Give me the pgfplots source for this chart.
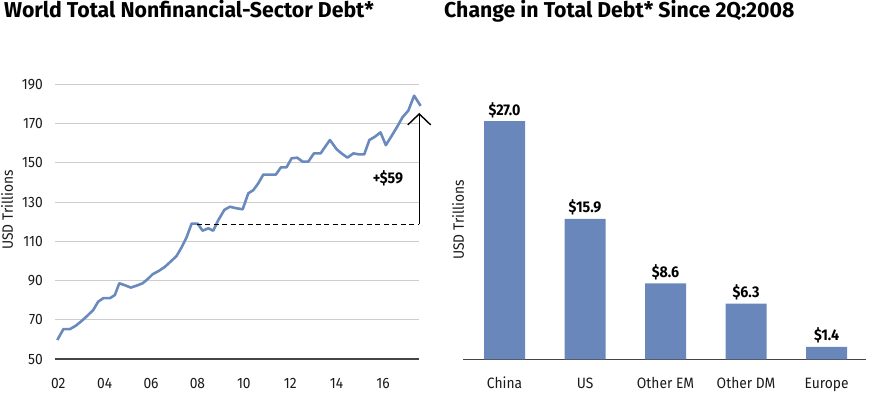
\documentclass[border=0pt]{standalone}
\usepackage{fontspec}
\setmainfont{Fira Sans}[FakeStretch=0.92]
\newfontfamily\titlefont{Fira Sans}[FakeStretch=0.99]
\usepackage{pgfplots}
\pgfplotsset{compat=1.18, /pgf/number format/assume math mode=true}
\usetikzlibrary{arrows.meta}
\definecolor{lineblue}{HTML}{6A8ABD}
\definecolor{barblue}{HTML}{6987BA}
\definecolor{gridgray}{HTML}{CDCDCD}
\definecolor{axisgray}{HTML}{454545}
\definecolor{txt}{HTML}{1A1A1A}
\begin{document}
\begin{tikzpicture}
\useasboundingbox (0pt,0pt) rectangle (880pt,392pt);
\node[anchor=base west, inner sep=0, font=\titlefont\fontsize{21.5}{24}\selectfont\bfseries, text=black] at (4pt,374.5pt) {World Total Nonfinancial-Sector Debt*};
\node[anchor=base west, inner sep=0, font=\titlefont\fontsize{21.5}{24}\selectfont\bfseries, text=black] at (444pt,374.5pt) {Change in Total Debt* Since 2Q:2008};
\node[rotate=90, inner sep=0, font=\fontsize{15}{18}\selectfont, text=txt] at (7pt,182pt) {USD Trillions};
\node[rotate=90, inner sep=0, font=\fontsize{15}{18}\selectfont, text=txt] at (458pt,172pt) {USD Trillions};

\begin{axis}[at={(55pt,33pt)}, anchor=south west, scale only axis,
  width=364pt, height=274.7pt,
  xmin=2001.86, xmax=2017.55, ymin=50, ymax=190,
  ytick={50,70,...,190},
  xtick={2002,2004,...,2016}, xticklabels={02,04,06,08,10,12,14,16},
  axis x line*=bottom, axis y line*=left,
  y axis line style={draw=none},
  x axis line style={draw=axisgray, line width=1.3pt, -},
  ymajorgrids, grid style={gridgray, line width=0.9pt},
  major tick length=0,
  tick label style={font=\fontsize{15}{18}\selectfont, text=txt},
  xticklabel style={anchor=base, yshift=-29pt, inner sep=0},
  yticklabel style={anchor=east, xshift=-12pt, inner sep=0},
  clip=false]
\addplot[lineblue, line width=2.6pt, line join=round] coordinates {
(2001.96,59.7) (2002.22,65.2) (2002.50,65.2) (2002.76,67.0) (2003.01,69.4)
(2003.25,72.0) (2003.51,75.0) (2003.72,79.2) (2003.94,81.0) (2004.23,81.0)
(2004.44,82.6) (2004.63,88.6) (2004.87,87.6) (2005.13,86.4) (2005.38,87.4)
(2005.64,88.6) (2005.88,91.0) (2006.07,93.2) (2006.35,95.0) (2006.60,97.0)
(2006.84,99.6) (2007.10,102.5) (2007.32,107.0) (2007.53,112.0) (2007.75,119.0)
(2008.01,119.0) (2008.22,115.4) (2008.47,116.6) (2008.68,115.4) (2008.90,120.8)
(2009.16,126.0) (2009.40,127.6) (2009.69,126.8) (2009.95,126.3) (2010.19,134.4)
(2010.41,136.1) (2010.62,139.5) (2010.84,144.0) (2011.12,144.0) (2011.38,144.0)
(2011.60,147.7) (2011.84,147.7) (2012.06,152.3) (2012.30,152.6) (2012.53,150.6)
(2012.78,150.6) (2013.02,154.8) (2013.31,154.8) (2013.49,157.9) (2013.71,161.6)
(2014.00,156.9) (2014.21,154.8) (2014.47,152.6) (2014.72,154.8) (2014.96,154.3)
(2015.19,154.3) (2015.41,161.6) (2015.65,163.3) (2015.89,165.5) (2016.12,159.0)
(2016.37,163.7) (2016.61,168.4) (2016.84,173.2) (2017.09,176.6) (2017.34,184.2)
(2017.62,179.0)
};
\draw[black, line width=1.4pt, dash pattern=on 5pt off 3.5pt] (axis cs:2007.96,118.6) -- (axis cs:2017.56,118.6);
\draw[black, line width=1.4pt, -{Straight Barb[length=11pt, width=23pt, line width=1.4pt]}] (axis cs:2017.56,118.6) -- (axis cs:2017.56,175.4);
\node[font=\fontsize{15.5}{18}\selectfont\bfseries, text=black] at (axis cs:2016.21,142.2) {+\$59};
\end{axis}

\begin{axis}[at={(463pt,32.7pt)}, anchor=south west, scale only axis,
  width=403pt, height=260pt,
  xmin=-0.516, xmax=4.49, ymin=0, ymax=29.46,
  axis x line*=bottom, axis y line=none,
  x axis line style={draw=axisgray, line width=1.3pt, -},
  xtick={0,1,2,3,4}, xticklabels={China,US,Other EM,Other DM,Europe},
  major tick length=0,
  ytick=\empty,
  xticklabel style={font=\fontsize{15}{18}\selectfont, text=txt, anchor=base, yshift=-29pt, inner sep=0},
  ybar, bar width=41pt,
  nodes near coords={\$\pgfmathprintnumber[fixed,fixed zerofill,precision=1]{\pgfplotspointmeta}},
  every node near coord/.append style={font=\fontsize{15.5}{18}\selectfont\bfseries, text=black, anchor=base, yshift=6pt, inner sep=0},
  clip=false]
\addplot[fill=barblue, draw=none] coordinates {(0,27.0) (1,15.9) (2,8.6) (3,6.3) (4,1.4)};
\end{axis}
\end{tikzpicture}
\end{document}
